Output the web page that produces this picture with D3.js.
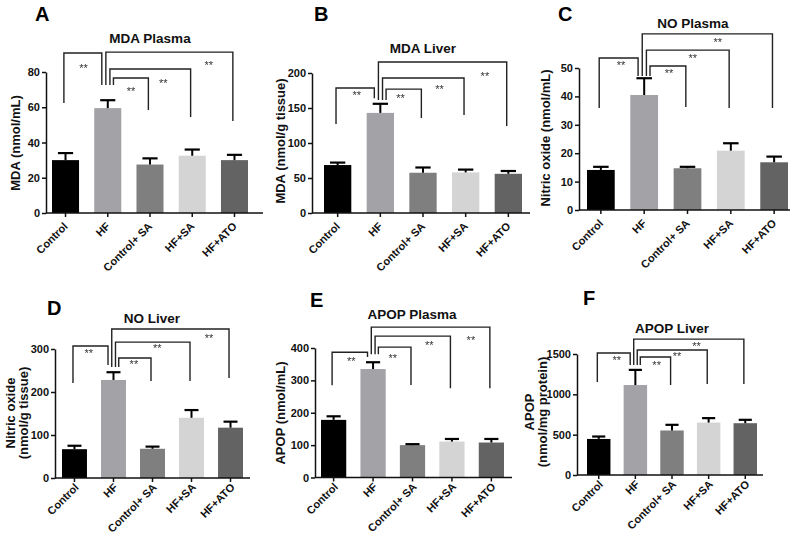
<!DOCTYPE html>
<html>
<head>
<meta charset="utf-8">
<script src="https://cdn.jsdelivr.net/npm/d3@7"></script>
<style>
  body { margin: 0; background: #fff; }
  text { font-family: "Liberation Sans", Arial, sans-serif; }
</style>
</head>
<body>
<script>
// groups on every panel
var groups = ["Control", "HF", "Control+ SA", "HF+SA", "HF+ATO"];

// mean and SEM
var mdaPlasmaMean = [30, 59.5, 27.5, 32.5, 30];
var mdaPlasmaSem  = [4, 4.5, 3.5, 3.5, 3];
var mdaLiverMean  = [68.5, 143, 57.5, 58, 56];
var mdaLiverSem   = [3.5, 13, 7.5, 4, 4];
var noPlasmaMean  = [14.1, 40.5, 14.7, 20.9, 16.8];
var noPlasmaSem   = [1.1, 5.9, 0.5, 2.6, 2.0];
var noLiverMean   = [67, 228, 68, 140, 117];
var noLiverSem    = [8, 18, 5, 18, 14];
var apopPlasmaMean = [178, 335, 100, 111, 108];
var apopPlasmaSem  = [11, 21, 3, 8, 11];
var apopLiverMean  = [447, 1115, 552, 650, 642];
var apopLiverSem   = [30, 188, 70, 55, 42];

// significance comparisons (group indexes), same on all panels
var comparisons = [[0, 1], [1, 4], [1, 3], [1, 2]];
var sigLabel = "**";

var barColors = ["#000000", "#a2a2a7", "#7f7f7f", "#d4d4d4", "#636363"];
// where the HF leg of each bracket sits, as a share of bar width
var hfLegOffset = [-0.22, -0.07, 0.08, 0.21];

// panel layout; brackets = [top, left leg end, right leg end, star pos, star level] in data units
var panels = [
  {letter: "A", title: "MDA Plasma", mean: mdaPlasmaMean, sem: mdaPlasmaSem,
   yMax: 80, yStep: 20, x0: 46, x1: 263, bars: [52, 248], yZero: 213, yTop: 72, labelShift: [3, 14],
   letterPos: [35, 21], titlePos: [150, 43], ylab: [15, 143], ylines: ["MDA (nmol/mL)"],
   brackets: [[90.8, 62.4, 72.6, 0.52, 83.4], [91.3, 72.6, 52.2, 0.81, 85.1],
              [81.7, 72.6, 54.5, 0.66, 74.9], [76.6, 72.6, 58.4, 0.5, 70.4]]},
  {letter: "B", title: "MDA Liver", mean: mdaLiverMean, sem: mdaLiverSem,
   yMax: 200, yStep: 50, x0: 312, x1: 530, bars: [324, 522], yZero: 213, yTop: 73, labelShift: [3, 14],
   letterPos: [314, 21], titlePos: [423, 53], ylab: [280, 141], ylines: ["MDA (nmol/g tissue)"],
   brackets: [[178.6, 127, 164, 0.54, 171], [215.7, 161.4, 124.3, 0.83, 198.6],
              [192.9, 161.4, 140, 0.7, 180], [177, 161.4, 135.7, 0.41, 167]]},
  {letter: "C", title: "NO Plasma", mean: noPlasmaMean, sem: noPlasmaSem,
   yMax: 50, yStep: 10, x0: 579, x1: 790, bars: [587, 788], yZero: 210, yTop: 68, labelShift: [3, 14],
   letterPos: [558, 21], titlePos: [693, 28], ylab: [545, 138], ylines: ["Nitric oxide (nmol/mL)"],
   brackets: [[53.5, 35.9, 47.2, 0.56, 51.8], [62, 47.2, 35.9, 0.58, 59.9],
              [56.3, 47.2, 35.9, 0.56, 54.2], [50.7, 47.2, 36.3, 0.53, 49]]},
  {letter: "D", title: "NO Liver", mean: noLiverMean, sem: noLiverSem,
   yMax: 300, yStep: 100, x0: 55, x1: 250, bars: [62, 243], yZero: 478, yTop: 349, labelShift: [5, 10],
   letterPos: [47, 315], titlePos: [152, 323], ylab: [17, 413], ylines: ["Nitric oxide", "(nmol/g tissue)"],
   brackets: [[307, 221, 263, 0.45, 295], [346.5, 258, 232.6, 0.83, 330],
              [316, 258, 225.6, 0.56, 307], [279, 258, 225.6, 0.47, 270]]},
  {letter: "E", title: "APOP Plasma", mean: apopPlasmaMean, sem: apopPlasmaSem,
   yMax: 400, yStep: 100, x0: 315, x1: 512, bars: [321, 504], yZero: 477.5, yTop: 348, labelShift: [5, 10],
   letterPos: [310, 307], titlePos: [412, 319], ylab: [280, 413], ylines: ["APOP (nmol/mL)"],
   brackets: [[387, 285, 372, 0.54, 366], [464.5, 381, 276, 0.84, 430.5],
              [436.7, 381, 276, 0.72, 415], [402.8, 381, 285.5, 0.44, 375]]},
  {letter: "F", title: "APOP Liver", mean: apopLiverMean, sem: apopLiverSem,
   yMax: 1500, yStep: 500, x0: 577, x1: 763, bars: [587, 757], yZero: 475, yTop: 354, labelShift: [5, 10],
   letterPos: [583, 305], titlePos: [672, 333], ylab: [536, 412], ylines: ["APOP", "(nmol/mg protein)"],
   brackets: [[1512, 1152, 1363, 0.59, 1450], [1685, 1363, 1128, 0.57, 1623],
              [1549, 1363, 1128, 0.57, 1499], [1462, 1363, 1115, 0.54, 1388]]}
];

var svg = d3.select("body")
    .append("svg")
    .attr("width", 800)
    .attr("height", 534);

// no-op filter so the small stars get plain grey antialiasing
svg.append("defs").append("filter")
    .attr("id", "flat")
    .append("feOffset").attr("dx", 0).attr("dy", 0);

panels.forEach(function(p){
    var g = svg.append("g");

    var x = d3.scaleBand()
        .domain(groups)
        .range(p.bars)
        .paddingInner(0.36)
        .paddingOuter(0);
    var y = d3.scaleLinear()
        .domain([0, p.yMax])
        .range([p.yZero, p.yTop]);
    var bw = x.bandwidth();
    var cx = function(i){ return x(groups[i]) + bw / 2; };

    //bars
    g.selectAll(".bar")
        .data(p.mean)
        .enter()
        .append("rect")
        .attr("x", function(d, i){ return x(groups[i]); })
        .attr("y", function(d){ return y(d); })
        .attr("width", bw)
        .attr("height", function(d){ return p.yZero - y(d); })
        .attr("fill", function(d, i){ return barColors[i]; });

    //error bars (upper only)
    var err = g.selectAll(".err")
        .data(p.mean)
        .enter()
        .append("g");
    err.append("line")
        .attr("x1", function(d, i){ return cx(i); })
        .attr("x2", function(d, i){ return cx(i); })
        .attr("y1", function(d){ return y(d); })
        .attr("y2", function(d, i){ return y(d + p.sem[i]); })
        .attr("stroke", "#000").attr("stroke-width", 2);
    err.append("line")
        .attr("x1", function(d, i){ return cx(i) - bw * 0.28; })
        .attr("x2", function(d, i){ return cx(i) + bw * 0.28; })
        .attr("y1", function(d, i){ return y(d + p.sem[i]); })
        .attr("y2", function(d, i){ return y(d + p.sem[i]); })
        .attr("stroke", "#000").attr("stroke-width", 2.2);

    //y axis
    var yAxis = g.append("g")
        .attr("transform", "translate(" + p.x0 + ",0)")
        .call(d3.axisLeft(y)
            .tickValues(d3.range(0, p.yMax + 1, p.yStep))
            .tickFormat(d3.format("d"))
            .tickSize(4)
            .tickSizeOuter(0)
            .tickPadding(2));
    yAxis.selectAll("path, line").attr("stroke", "#111").attr("stroke-width", 1.5);
    yAxis.selectAll("text")
        .attr("font-size", 11)
        .attr("font-weight", "bold")
        .attr("fill", "#111")
        .attr("font-family", "'Liberation Sans', Arial, sans-serif");

    //x axis
    var xAxis = g.append("g")
        .attr("transform", "translate(0," + p.yZero + ")")
        .call(d3.axisBottom(x).tickSize(4).tickSizeOuter(0));
    xAxis.select(".domain").remove();
    xAxis.append("line")
        .attr("x1", p.x0).attr("x2", p.x1)
        .attr("stroke", "#111").attr("stroke-width", 1.5);
    xAxis.selectAll(".tick line").attr("stroke", "#111").attr("stroke-width", 1.5);
    xAxis.selectAll(".tick text")
        .attr("y", 0).attr("dy", 0)
        .attr("transform", "translate(" + p.labelShift[0] + "," + p.labelShift[1] + ") rotate(-45)")
        .attr("text-anchor", "end")
        .attr("font-size", 11)
        .attr("font-weight", "bold")
        .attr("fill", "#111")
        .attr("font-family", "'Liberation Sans', Arial, sans-serif");

    //significance brackets
    var stars = g.append("g").attr("filter", "url(#flat)");
    p.brackets.forEach(function(b, k){
        var pair = comparisons[k];
        var xl = pair[0] === 1 ? cx(1) + hfLegOffset[k] * bw : cx(pair[0]) - 0.06 * bw;
        var xr = pair[1] === 1 ? cx(1) + hfLegOffset[k] * bw : cx(pair[1]) - 0.06 * bw;
        g.append("path")
            .attr("d", "M" + xl + "," + y(b[1]) + "V" + y(b[0]) + "H" + xr + "V" + y(b[2]))
            .attr("fill", "none")
            .attr("stroke", "#222")
            .attr("stroke-width", 1.4);
        stars.append("text")
            .attr("x", xl + b[3] * (xr - xl))
            .attr("y", y(b[4]) + 6)
            .attr("text-anchor", "middle")
            .attr("font-size", 11)
            .attr("fill", "#333")
            .text(sigLabel);
    });

    //title and panel letter
    g.append("text")
        .attr("x", p.titlePos[0]).attr("y", p.titlePos[1])
        .attr("text-anchor", "middle")
        .attr("font-size", 13.5)
        .attr("font-weight", "bold")
        .attr("fill", "#111")
        .text(p.title);
    g.append("text")
        .attr("x", p.letterPos[0]).attr("y", p.letterPos[1])
        .attr("font-size", 20)
        .attr("font-weight", "bold")
        .attr("fill", "#000")
        .text(p.letter);

    //y label
    var lh = 12.5;
    var yl = g.append("text")
        .attr("transform", "translate(" + p.ylab[0] + "," + p.ylab[1] + ") rotate(-90)")
        .attr("text-anchor", "middle")
        .attr("font-size", 13)
        .attr("font-weight", "bold")
        .attr("fill", "#111");
    p.ylines.forEach(function(t, i){
        yl.append("tspan")
            .attr("x", 0)
            .attr("dy", i === 0 ? (-(p.ylines.length - 1) / 2 * lh + 4.5) : lh)
            .text(t);
    });
});
</script>
</body>
</html>
